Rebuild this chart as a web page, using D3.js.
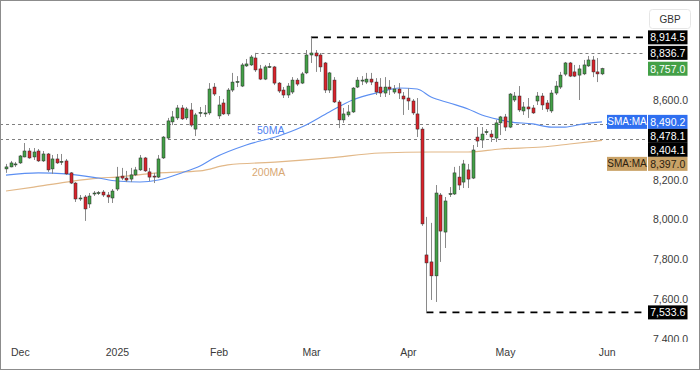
<!DOCTYPE html>
<html>
<head>
<meta charset="utf-8">
<script src="https://cdn.jsdelivr.net/npm/d3@7/dist/d3.min.js"></script>
<style>
  html, body { margin: 0; padding: 0; background: #fff; }
  svg { display: block; font-family: "Liberation Sans", Arial, sans-serif; }
</style>
</head>
<body>
<svg id="chart" width="700" height="370"></svg>
<script>
// daily candles, [open, high, low, close]
var candles = [
  [8254,8279,8234,8264],[8264,8294,8262,8284],[8274,8289,8264,8279],[8284,8324,8279,8319],
  [8314,8384,8312,8344],[8344,8359,8305,8309],[8314,8359,8299,8339],[8344,8354,8289,8294],
  [8294,8344,8289,8329],[8329,8334,8239,8249],[8254,8324,8229,8304],[8304,8329,8279,8284],
  [8289,8329,8274,8292],[8294,8304,8224,8229],[8234,8238,8178,8183],[8183,8188,8088,8103],
  [8103,8123,8093,8108],[8113,8123,7993,8053],[8078,8133,8058,8118],[8128,8143,8118,8133],
  [8133,8143,8123,8135],[8138,8148,8113,8123],[8123,8138,8083,8113],[8108,8153,8083,8143],
  [8153,8264,8143,8213],[8218,8259,8198,8208],[8208,8244,8188,8198],[8203,8259,8188,8224],
  [8224,8264,8218,8249],[8249,8324,8244,8309],[8309,8314,8239,8244],[8239,8259,8193,8213],
  [8218,8234,8183,8213],[8213,8324,8208,8304],[8309,8419,8304,8414],[8409,8510,8404,8495],
  [8490,8545,8474,8515],[8510,8575,8500,8560],[8560,8575,8500,8505],[8510,8565,8500,8555],
  [8550,8585,8464,8474],[8454,8535,8419,8525],[8535,8565,8515,8538],[8530,8575,8515,8535],
  [8535,8685,8525,8655],[8665,8685,8620,8630],[8520,8620,8505,8575],[8585,8605,8525,8530],
  [8530,8660,8520,8650],[8650,8736,8640,8690],[8690,8720,8665,8693],[8670,8786,8665,8776],
  [8771,8806,8766,8781],[8776,8826,8771,8816],[8811,8836.7,8741,8751],[8756,8776,8700,8705],
  [8705,8776,8700,8766],[8766,8786,8761,8768],[8766,8771,8675,8685],[8685,8690,8635,8645],
  [8650,8665,8610,8625],[8625,8685,8610,8670],[8640,8715,8630,8700],[8700,8710,8670,8680],
  [8685,8741,8680,8731],[8736,8851,8730,8826],[8826,8914.5,8786,8836],[8836,8851,8741,8821],
  [8826,8836,8741,8766],[8786,8791,8635,8650],[8650,8741,8635,8736],[8700,8715,8585,8590],
  [8590,8600,8459,8500],[8500,8560,8485,8530],[8525,8575,8515,8540],[8540,8665,8535,8660],
  [8665,8715,8660,8700],[8695,8720,8675,8700],[8690,8736,8680,8705],[8705,8736,8675,8690],
  [8690,8710,8625,8640],[8665,8710,8615,8635],[8635,8715,8615,8665],[8665,8700,8625,8655],
  [8640,8675,8630,8655],[8655,8685,8605,8635],[8620,8640,8525,8605],[8610,8660,8550,8595],
  [8595,8605,8525,8535],[8530,8610,8414,8454],[8454,8464,7968,7978],[7822,8013,7533.6,7782],
  [7787,7983,7596,7717],[7717,8173,7586,8133],[8123,8133,7787,7942],[7937,8113,7857,8093],
  [8128,8163,8113,8130],[8128,8264,8123,8234],[8213,8269,8148,8173],[8188,8299,8158,8279],
  [8249,8279,8158,8203],[8208,8374,8203,8349],[8414,8464,8364,8394],[8399,8464,8359,8429],
  [8437,8454,8424,8441],[8429,8449,8389,8414],[8409,8500,8389,8485],[8485,8520,8424,8515],
  [8515,8530,8444,8464],[8464,8635,8459,8630],[8600,8640,8590,8620],[8620,8670,8540,8550],
  [8545,8590,8525,8565],[8565,8610,8510,8555],[8560,8575,8530,8535],[8595,8640,8575,8620],
  [8620,8635,8550,8575],[8585,8600,8540,8555],[8545,8650,8535,8635],[8635,8695,8625,8670],
  [8665,8741,8655,8725],[8730,8791,8720,8786],[8786,8791,8715,8720],[8741,8776,8715,8720],
  [8725,8776,8600,8756],[8731,8801,8725,8776],[8771,8821,8766,8801],[8801,8821,8715,8741],
  [8741,8811,8690,8731],[8731,8762,8725,8757]
];

// moving averages, [candle index, value]
var ma50 = [[0,8223],[7,8234],[13,8229],[20,8208],[24,8193],[29,8188],[33,8198],[38,8234],
  [42,8269],[45,8309],[52,8374],[59,8419],[64,8464],[70,8540],[75,8600],[81,8640],[85,8660],
  [89,8655],[92,8615],[96,8585],[100,8555],[103,8525],[107,8500],[109,8490],[114,8480],
  [118,8464],[121,8464],[125,8480],[129,8490.2]];
var ma200 = [[0,8143],[6,8163],[13,8188],[20,8208],[24,8213],[33,8234],[42,8244],[48,8274],
  [59,8289],[70,8309],[81,8334],[92,8339],[100,8339],[107,8354],[116,8364],[122,8379],[129,8397]];

var priceTicks = [7400, 7600, 7800, 8000, 8200, 8400, 8600, 8800];
var monthTicks = [
  { label: 'Dec', index: 3 }, { label: '2025', index: 24 }, { label: 'Feb', index: 46 },
  { label: 'Mar', index: 66 }, { label: 'Apr', index: 87 }, { label: 'May', index: 108 },
  { label: 'Jun', index: 130 }
];

// horizontal levels; start = candle index where the line begins (null = full width)
var dashedLevels = [{ value: 8914.5, start: 66 }, { value: 7533.6, start: 91 }];
var dottedLevels = [{ value: 8836.7, start: 54 }, { value: 8478.1, start: null }, { value: 8404.1, start: null }];

var priceLabels = [
  { value: 8914.5, bg: '#000', fg: '#fff' },
  { value: 8836.7, bg: '#000', fg: '#fff' },
  { value: 8757.0, bg: '#43a047', fg: '#fff' },
  { value: 8490.2, bg: '#2f6ff0', fg: '#fff', tag: 'SMA:MA' },
  { value: 8478.1, bg: '#000', fg: '#fff' },
  { value: 8404.1, bg: '#000', fg: '#fff' },
  { value: 8397.0, bg: '#c9a267', fg: '#2b2110', tag: 'SMA:MA' },
  { value: 7533.6, bg: '#000', fg: '#fff' }
];

var W = 700, H = 370;
var PLOT_RIGHT = 647;
var AXIS_BOTTOM = 342;
var BODY_W = 3;
var LABEL_H = 14;
var UP = '#43a047', DOWN = '#d9232b';

var svg = d3.select('#chart');
var fmt = d3.format(',.1f');

var x = d3.scaleLinear().domain([0, candles.length - 1]).range([6, 602]);
var y = d3.scaleLinear().domain([7400, 8600]).range([339, 100]);

var defs = svg.append('defs');
defs.append('clipPath').attr('id', 'plotClip')
  .append('rect').attr('x', 0).attr('y', 0).attr('width', PLOT_RIGHT).attr('height', AXIS_BOTTOM);
defs.append('clipPath').attr('id', 'axisClip')
  .append('rect').attr('x', PLOT_RIGHT).attr('y', 0).attr('width', W - PLOT_RIGHT).attr('height', AXIS_BOTTOM);

var plot = svg.append('g').attr('clip-path', 'url(#plotClip)');

// level lines
plot.selectAll('.dotted').data(dottedLevels).enter().append('line')
  .attr('x1', function (d) { return d.start == null ? 0 : x(d.start); })
  .attr('x2', PLOT_RIGHT - 2)
  .attr('y1', function (d) { return Math.round(y(d.value)) + 0.5; })
  .attr('y2', function (d) { return Math.round(y(d.value)) + 0.5; })
  .attr('stroke', '#808080').attr('stroke-width', 1).attr('stroke-dasharray', '3,3');

plot.selectAll('.dashed').data(dashedLevels).enter().append('line')
  .attr('x1', function (d) { return x(d.start); })
  .attr('x2', PLOT_RIGHT - 2)
  .attr('y1', function (d) { return y(d.value); })
  .attr('y2', function (d) { return y(d.value); })
  .attr('stroke', '#000').attr('stroke-width', 1.6).attr('stroke-dasharray', '7,6');

// moving averages
var maLine = d3.line()
  .x(function (d) { return x(d[0]); })
  .y(function (d) { return y(d[1]); })
  .curve(d3.curveMonotoneX);
plot.append('path').datum(ma200).attr('d', maLine)
  .attr('fill', 'none').attr('stroke', '#e2b888').attr('stroke-width', 1.2);
plot.append('path').datum(ma50).attr('d', maLine)
  .attr('fill', 'none').attr('stroke', '#5c8ff2').attr('stroke-width', 1.1);

plot.append('text').attr('x', 257).attr('y', 134).attr('font-size', 10.5)
  .attr('fill', '#4d80f0').text('50MA');
plot.append('text').attr('x', 252).attr('y', 176).attr('font-size', 10.5)
  .attr('fill', '#d8a873').text('200MA');

// candles
var candle = plot.selectAll('.candle').data(candles).enter().append('g').attr('class', 'candle');
candle.append('line')
  .attr('x1', function (d, i) { return Math.round(x(i)) + 0.5; })
  .attr('x2', function (d, i) { return Math.round(x(i)) + 0.5; })
  .attr('y1', function (d) { return y(d[1]); })
  .attr('y2', function (d) { return y(d[2]); })
  .attr('stroke', '#8a8a8a').attr('stroke-width', 1);
candle.append('rect')
  .attr('x', function (d, i) { return Math.round(x(i)) + 0.5 - BODY_W / 2; })
  .attr('width', BODY_W)
  .attr('y', function (d) { return y(Math.max(d[0], d[3])); })
  .attr('height', function (d) { return Math.max(1, Math.abs(y(d[0]) - y(d[3]))); })
  .attr('fill', function (d) { return d[3] >= d[0] ? UP : DOWN; })
  .attr('stroke', '#2a2a2a').attr('stroke-width', 0.5);

// price labels on the axis, pushed apart where they collide
var placed = priceLabels.map(function (d) { return { d: d, cy: y(d.value) }; })
  .sort(function (a, b) { return a.cy - b.cy; });
for (var k = 1; k < placed.length; k++) {
  if (placed[k].cy - placed[k - 1].cy < LABEL_H) placed[k].cy = placed[k - 1].cy + LABEL_H;
}

// price axis: ticks hidden behind a label box are dropped
var freeTicks = priceTicks.filter(function (t) {
  return placed.every(function (p) { return Math.abs(p.cy - y(t)) > LABEL_H - 2; });
});
var axisG = svg.append('g').attr('clip-path', 'url(#axisClip)');
var yAxis = axisG.append('g')
  .attr('transform', 'translate(' + PLOT_RIGHT + ',0)')
  .call(d3.axisRight(y).tickValues(freeTicks).tickFormat(fmt).tickSize(0).tickPadding(6));
yAxis.select('.domain').remove();
yAxis.selectAll('text').attr('font-size', 10.5).attr('fill', '#3a3a3a')
  .attr('font-family', '"Liberation Sans", Arial, sans-serif');

// time axis
var xAxis = svg.append('g')
  .attr('transform', 'translate(0,346)')
  .call(d3.axisBottom(x).tickValues(monthTicks.map(function (d) { return d.index; }))
    .tickFormat(function (d, i) { return monthTicks[i].label; }).tickSize(0).tickPadding(3));
xAxis.select('.domain').remove();
xAxis.selectAll('text').attr('font-size', 10.5).attr('fill', '#3a3a3a')
  .attr('font-family', '"Liberation Sans", Arial, sans-serif');

var lab = svg.append('g').selectAll('g').data(placed).enter().append('g')
  .attr('transform', function (p) { return 'translate(0,' + p.cy + ')'; });
lab.append('rect').attr('x', 648).attr('y', -LABEL_H / 2).attr('width', 39.5).attr('height', LABEL_H)
  .attr('fill', function (p) { return p.d.bg; });
lab.append('text').attr('x', 667.8).attr('y', 0).attr('dy', '0.36em')
  .attr('text-anchor', 'middle').attr('font-size', 10.5)
  .attr('fill', function (p) { return p.d.fg; })
  .text(function (p) { return fmt(p.d.value); });
var tagged = lab.filter(function (p) { return p.d.tag; });
tagged.append('rect').attr('x', 607).attr('y', -LABEL_H / 2).attr('width', 40).attr('height', LABEL_H)
  .attr('fill', function (p) { return p.d.bg; });
tagged.append('text').attr('x', 627).attr('y', 0).attr('dy', '0.36em')
  .attr('text-anchor', 'middle').attr('font-size', 10)
  .attr('fill', function (p) { return p.d.fg; })
  .text(function (p) { return p.d.tag; });

// currency badge
svg.append('rect').attr('x', 649.5).attr('y', 9.5).attr('width', 41).attr('height', 19).attr('rx', 3)
  .attr('fill', '#fff').attr('stroke', '#e6e6e6');
svg.append('text').attr('x', 670).attr('y', 19).attr('dy', '0.36em').attr('text-anchor', 'middle')
  .attr('font-size', 10).attr('fill', '#333').text('GBP');

// frame
svg.append('rect').attr('x', 0.5).attr('y', 0.5).attr('width', W - 1).attr('height', H - 1)
  .attr('fill', 'none').attr('stroke', '#8c8c8c');
</script>
</body>
</html>
